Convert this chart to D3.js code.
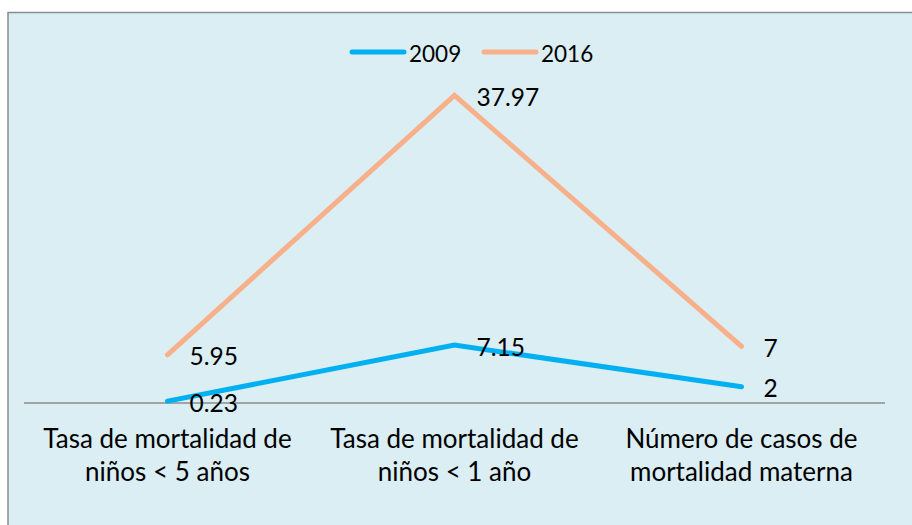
<!DOCTYPE html>
<html><head><meta charset="utf-8">
<script src="https://cdn.jsdelivr.net/npm/d3@7"></script>
<style>html,body{margin:0;padding:0;background:#fff;}svg{display:block;}</style>
</head><body>
<svg id="c" width="912" height="525"></svg>
<script>
const categories = ["Tasa de mortalidad de\nniños < 5 años", "Tasa de mortalidad de\nniños < 1 año", "Número de casos de\nmortalidad materna"];
const series2009 = [0.23, 7.15, 2];
const series2016 = [5.95, 37.97, 7];
const labels2009 = ["0.23", "7.15", "2"];
const labels2016 = ["5.95", "37.97", "7"];
const seriesNames = ["2009", "2016"];
const colors = ["#00B0F0", "#F8B08A"];

const svg = d3.select("#c");
const font = "Lato, 'Open Sans', sans-serif";
svg.append("rect").attr("x", 8).attr("y", 12.5).attr("width", 920).attr("height", 530)
  .attr("fill", "#DAEEF3").attr("stroke", "#8c8c8c").attr("stroke-width", 1.5);

const x = d3.scaleBand().domain(categories).range([24, 885]);
const y = d3.scaleLinear().domain([0, 40]).range([403, 79]);

svg.append("line").attr("x1", 24).attr("x2", 885).attr("y1", y(0)).attr("y2", y(0))
  .attr("stroke", "#8c8c8c").attr("stroke-width", 1.5);

const data = [series2009, series2016];
const lbls = [labels2009, labels2016];
const line = d3.line().x((d, i) => x(categories[i]) + x.bandwidth() / 2).y(d => y(d));
data.forEach((s, k) => {
  svg.append("path").attr("d", line(s)).attr("fill", "none").attr("stroke", colors[k])
    .attr("stroke-width", 5).attr("stroke-linecap", "round").attr("stroke-linejoin", "miter");
});
data.forEach((s, k) => {
  svg.selectAll(null).data(s).enter().append("text")
    .attr("x", (d, i) => x(categories[i]) + x.bandwidth() / 2 + 22)
    .attr("y", d => y(d) + 1)
    .attr("dominant-baseline", "central")
    .attr("font-family", font).attr("font-size", 24.5).attr("fill", "#000")
    .text((d, i) => lbls[k][i]);
});

// category labels
categories.forEach(c => {
  const t = svg.append("text").attr("text-anchor", "middle").attr("font-family", font)
    .attr("font-size", 26).attr("fill", "#000");
  c.split("\n").forEach((ln, j) => {
    t.append("tspan").attr("x", x(c) + x.bandwidth() / 2).attr("y", 448 + j * 33).text(ln);
  });
});

// legend
const leg = [{x: 352, name: seriesNames[0], c: colors[0]}, {x: 484, name: seriesNames[1], c: colors[1]}];
leg.forEach(l => {
  svg.append("line").attr("x1", l.x).attr("x2", l.x + 52).attr("y1", 52).attr("y2", 52)
    .attr("stroke", l.c).attr("stroke-width", 5).attr("stroke-linecap", "round");
  svg.append("text").attr("x", l.x + 57).attr("y", 53).attr("dominant-baseline", "central")
    .attr("font-family", font).attr("font-size", 22.5).attr("fill", "#000").text(l.name);
});
</script>
</body></html>
